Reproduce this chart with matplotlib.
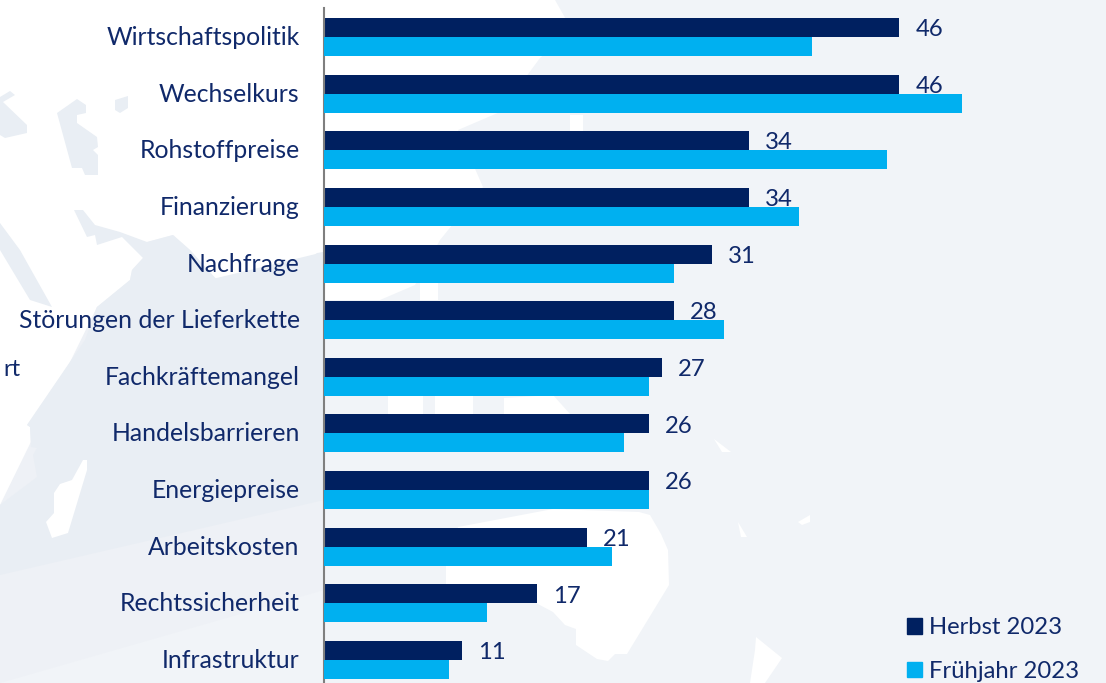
import matplotlib
matplotlib.use("Agg")
import matplotlib.pyplot as plt
from matplotlib.patches import Polygon, Patch
from matplotlib.transforms import ScaledTranslation

categories = ["Wirtschaftspolitik", "Wechselkurs", "Rohstoffpreise", "Finanzierung",
              "Nachfrage", "Störungen der Lieferkette", "Fachkräftemangel",
              "Handelsbarrieren", "Energiepreise", "Arbeitskosten",
              "Rechtssicherheit", "Infrastruktur"]
herbst = [46, 46, 34, 34, 31, 28, 27, 26, 26, 21, 17, 11]
fruehjahr = [39, 51, 45, 38, 28, 32, 26, 24, 26, 23, 13, 10]

NAVY = "#002060"
CYAN = "#00B0F0"
TEXT = "#10296a"
BG = "#f1f4f8"
LAND = "#e9eef4"

# faint map in the background, pixel coordinates of the picture
white_shapes = [
    # large white area top left, up to the edge of the map
    [(0, 0), (555, 0), (572, 30), (540, 58), (500, 112), (458, 130), (483, 187), (440, 240),
     (415, 285), (380, 300), (324, 300), (233, 313), (217, 280), (190, 250), (173, 235),
     (147, 242), (143, 258), (132, 270), (130, 280), (97, 307), (85, 340), (27, 425),
     (30, 427), (31, 447), (37, 448), (33, 455), (37, 477), (0, 505)],
    [(87, 460), (87, 470), (68, 533), (52, 538), (46, 522), (54, 513), (54, 493),
     (60, 484), (72, 480), (83, 460)],
    [(446, 565), (458, 527), (553, 509), (639, 512), (650, 515), (661, 534), (668, 550),
     (669, 585), (627, 654), (615, 654), (608, 661), (597, 659), (576, 645), (576, 629),
     (565, 625), (553, 612), (536, 603), (536, 590), (446, 584)],
    [(756, 637), (782, 658), (765, 683), (750, 683), (755, 650)],
    [(798, 522), (810, 515), (810, 522), (802, 525)],
    [(738, 522), (747, 537), (741, 537)],
    [(714, 439), (731, 452), (722, 452)],
    [(388, 395), (423, 395), (423, 414), (388, 414)],
    [(435, 395), (473, 395), (473, 414), (435, 414)],
    [(504, 398), (553, 395), (570, 414), (504, 414)],
    [(420, 283), (438, 283), (438, 300), (420, 300)],
    [(570, 115), (583, 115), (583, 131), (570, 131)],
]
land_shapes = [
    [(0, 97), (10, 91), (15, 95), (3, 102), (27, 125), (27, 133), (5, 138), (0, 135)],
    [(57, 113), (77, 99), (86, 105), (86, 113), (77, 115), (77, 123), (97, 137), (98, 147),
     (93, 150), (98, 155), (98, 175), (85, 175), (82, 168), (72, 168)],
    [(115, 100), (128, 96), (128, 108), (120, 113), (115, 110)],
    [(0, 223), (20, 250), (52, 307), (30, 300), (0, 250)],
    [(74, 210), (83, 210), (95, 225), (120, 232), (147, 242), (173, 235), (190, 250),
     (217, 280), (233, 313), (267, 293), (317, 253), (324, 252), (324, 300), (97, 307),
     (130, 280), (132, 270), (143, 258), (122, 237), (97, 245), (95, 235), (87, 237)],
]
# lower part of the map fades out towards the bottom
fade_shapes = [
    ("#eef1f6", [(324, 300), (324, 590), (0, 683), (0, 505), (97, 307)]),
    (LAND, [(324, 252), (324, 500), (0, 575), (0, 505), (37, 477), (33, 455), (37, 448),
            (31, 447), (30, 427), (27, 425), (85, 340), (97, 307)]),
]

fig = plt.figure(figsize=(11.06, 6.83), dpi=100, facecolor=BG)
W, H = fig.get_size_inches() * fig.dpi


def add_shape(points, col, z):
    fig.add_artist(Polygon([(x / W, 1 - y / H) for x, y in points], closed=True,
                           transform=fig.transFigure, fc=col, ec="none", zorder=z))


for s in white_shapes[:1]:
    add_shape(s, "white", -3)
for col, s in fade_shapes:
    add_shape(s, col, -2)
for s in white_shapes[1:]:
    add_shape(s, "white", -1)
for s in land_shapes:
    add_shape(s, LAND, -1)

plt.rcParams["font.family"] = ["Lato", "DejaVu Sans"]

ax = fig.add_axes([324 / W, 0, 1 - 324 / W, 1 - 8 / H], zorder=2)
ax.patch.set_alpha(0)
y = list(range(len(categories)))
ax.barh([i - 0.168 for i in y], herbst, height=0.336, color=NAVY, zorder=2)
for i, v in zip(y, herbst):
    ax.text(v + 1.3, i - 0.13, str(v), color=TEXT, fontsize=17.2, va="center", ha="left", zorder=3)
ax.barh([i + 0.168 for i in y], fruehjahr, height=0.336, color=CYAN, zorder=4)

ax.set_xlim(0, (1106 - 324) / 12.5)
ax.set_ylim(11.406, -0.512)
ax.set_yticks(y)
ax.set_yticklabels(categories, fontsize=17.8, color=TEXT)
ax.tick_params(axis="y", length=0, pad=17.5)
shift = ScaledTranslation(0, 1.5 / 100, fig.dpi_scale_trans)
for label in ax.get_yticklabels():
    label.set_transform(label.get_transform() + shift)
ax.set_xticks([])
for s in ["top", "right", "bottom"]:
    ax.spines[s].set_visible(False)
ax.spines["left"].set_color("#7f7f7f")
ax.spines["left"].set_linewidth(1.5)

handles = [Patch(color=NAVY), Patch(color=CYAN)]
ax.legend(handles, ["Herbst 2023", "Frühjahr 2023"], frameon=False, fontsize=17.2,
          labelcolor=TEXT, loc="lower left", bbox_to_anchor=(583 / 782, 0.0015),
          borderpad=0, borderaxespad=0, handlelength=0.62, handleheight=0.62,
          handletextpad=0.32, labelspacing=0.95)

fig.text(3 / W, 1 - 369 / H, "rt", fontsize=17, color=TEXT, va="center", ha="left")

fig.savefig("out.png", dpi=100, facecolor=fig.get_facecolor())
